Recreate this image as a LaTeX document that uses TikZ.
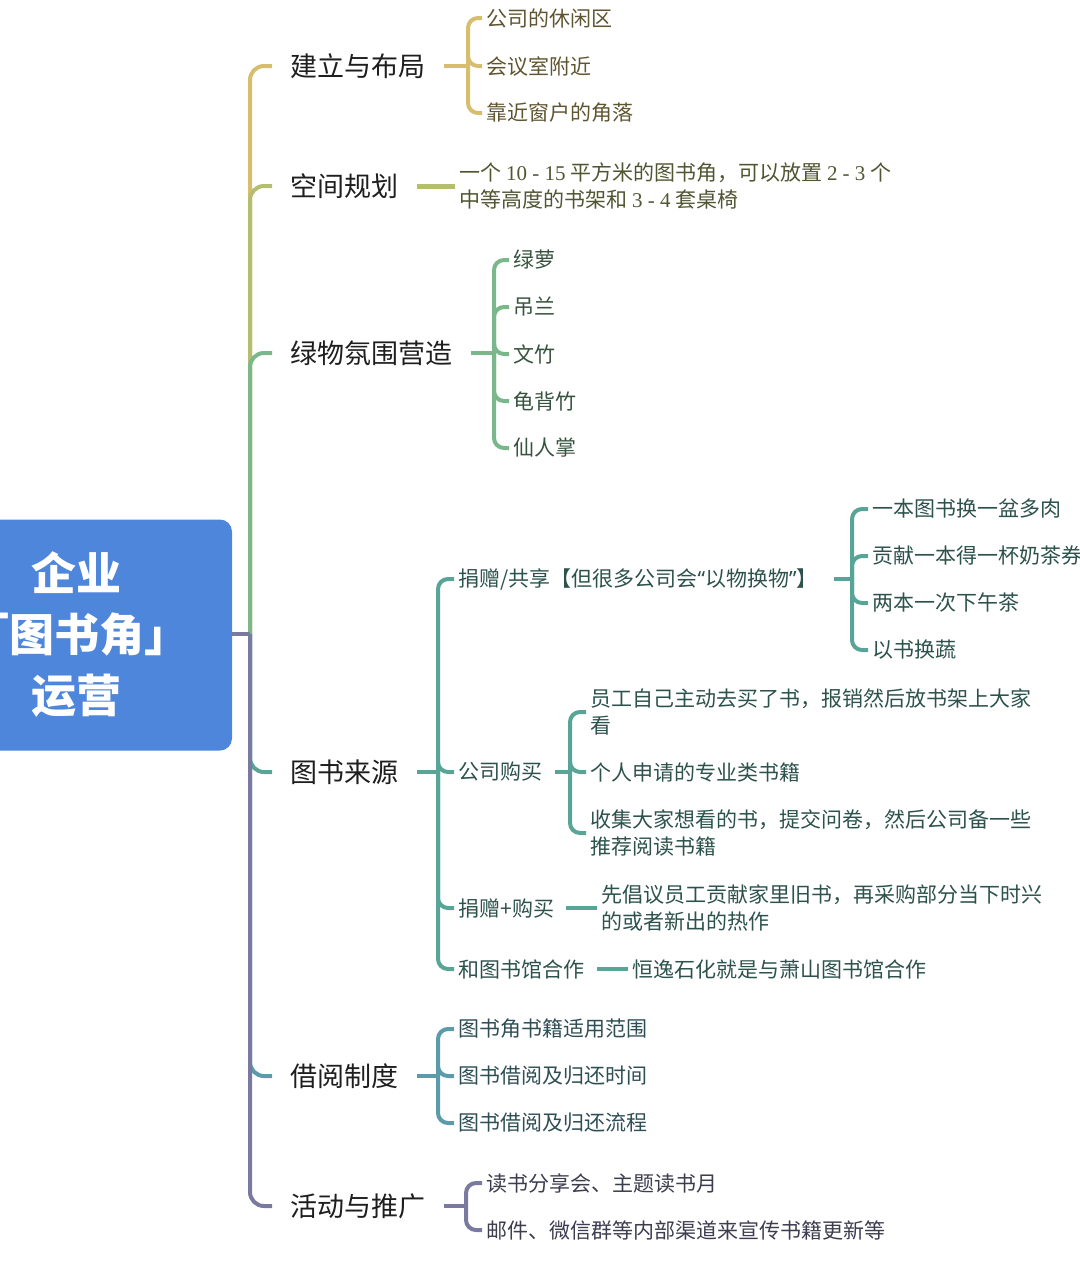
\documentclass[tikz,border=0pt]{standalone}
\usepackage{fontspec}
\setmainfont{Noto Sans CJK SC}
\newfontfamily\numfont{Liberation Serif}
\newfontfamily\quotefont{Noto Sans}
\usetikzlibrary{positioning}

\definecolor{rootc}{HTML}{4E86DB}
\definecolor{layoutc}{HTML}{D6BE6E}
\definecolor{spacec}{HTML}{B5BE6E}
\definecolor{plantc}{HTML}{7AB88C}
\definecolor{sourcec}{HTML}{58A496}
\definecolor{borrowc}{HTML}{5C9CAA}
\definecolor{eventc}{HTML}{7A7AA0}
\definecolor{topictext}{HTML}{1E1E1E}

\begin{document}
\begin{tikzpicture}[
  x=0.5pt, y=-0.5pt,
  rootbox/.style={
    fill=rootc,
    rounded corners=6pt,
    text=white,
    align=center,
    font=\fontsize{22.5}{30.5}\selectfont\bfseries,
    minimum width=155pt,
    minimum height=115.5pt
  },
  topic/.style={
    anchor=west,
    inner sep=1pt,
    text=topictext,
    font=\fontsize{13.5}{16}\selectfont
  },
  leaf/.style={
    anchor=west,
    inner xsep=2pt,
    inner ysep=1pt,
    align=left,
    font=\fontsize{10.5}{13.5}\selectfont
  },
  link/.style={
    line width=2pt,
    rounded corners=5pt
  },
  trunk/.style={
    line width=2pt,
    rounded corners=7pt
  }
]
\useasboundingbox (0,0) rectangle (1080,1265);
\clip (0,0) rectangle (1080,1265);

% root
\node[rootbox] (root) at (77,635) {企业\\「图书角」\\运营};
\coordinate (hub) at (250,634);

% main topics
\node[topic] (layout) at (288,66) {建立与布局};
\node[topic] (space) at (288,186) {空间规划};
\node[topic] (plant) at (288,353) {绿物氛围营造};
\node[topic] (source) at (288,772) {图书来源};
\node[topic] (borrow) at (288,1076) {借阅制度};
\node[topic] (event) at (288,1206) {活动与推广};

\draw[trunk, draw=layoutc] (hub) |- ([xshift=-8pt]layout.west);
\draw[trunk, draw=spacec] (hub) |- ([xshift=-8pt]space.west);
\draw[trunk, draw=plantc] (hub) |- ([xshift=-8pt]plant.west);
\draw[trunk, draw=sourcec] (hub) |- ([xshift=-8pt]source.west);
\draw[trunk, draw=borrowc] (hub) |- ([xshift=-8pt]borrow.west);
\draw[trunk, draw=eventc] (hub) |- ([xshift=-8pt]event.west);
\draw[line width=2pt, draw=eventc] (root.east |- hub) -- (hub);

% layout
\coordinate (layoutj) at (468,66);
\node[leaf, text=layoutc!45!black] (layout1) at (482,18) {公司的休闲区};
\node[leaf, text=layoutc!45!black] (layout2) at (482,66) {会议室附近};
\node[leaf, text=layoutc!45!black] (layout3) at (482,113) {靠近窗户的角落};
\draw[line width=2pt, draw=layoutc] ([xshift=8pt]layout.east) -- (layoutj);
\foreach \n in {layout1,layout2,layout3}
  \draw[link, draw=layoutc] (layoutj) |- (\n.west);

% space
\node[leaf, text=spacec!45!black] (space1) at (455,186)
  {一个 {\numfont 10 - 15} 平方米的图书角，可以放置 {\numfont 2 - 3} 个\\中等高度的书架和 {\numfont 3 - 4} 套桌椅};
\draw[line width=2.5pt, draw=spacec] ([xshift=8pt]space.east) -- (space1.west);

% plants
\coordinate (plantj) at (494,353);
\node[leaf, text=plantc!45!black] (plant1) at (509,260) {绿萝};
\node[leaf, text=plantc!45!black] (plant2) at (509,307) {吊兰};
\node[leaf, text=plantc!45!black] (plant3) at (509,354) {文竹};
\node[leaf, text=plantc!45!black] (plant4) at (509,401) {龟背竹};
\node[leaf, text=plantc!45!black] (plant5) at (509,448) {仙人掌};
\draw[line width=2pt, draw=plantc] ([xshift=8pt]plant.east) -- (plantj);
\foreach \n in {plant1,plant2,plant3,plant4,plant5}
  \draw[link, draw=plantc] (plantj) |- (\n.west);

% sources
\coordinate (sourcej) at (438,772);
\node[leaf, text=sourcec!50!black] (share) at (454,579) {捐赠/共享【但很多公司会{\quotefont“}以物换物{\quotefont”}】};
\node[leaf, text=sourcec!50!black] (buy) at (454,772) {公司购买};
\node[leaf, text=sourcec!50!black] (mixed) at (454,908) {捐赠+购买};
\node[leaf, text=sourcec!50!black] (library) at (454,969) {和图书馆合作};
\draw[line width=2pt, draw=sourcec] ([xshift=8pt]source.east) -- (sourcej);
\foreach \n in {share,buy,mixed,library}
  \draw[link, draw=sourcec] (sourcej) |- (\n.west);

\coordinate (sharej) at (852,579);
\node[leaf, text=sourcec!50!black] (share1) at (868,509) {一本图书换一盆多肉};
\node[leaf, text=sourcec!50!black] (share2) at (868,556) {贡献一本得一杯奶茶券};
\node[leaf, text=sourcec!50!black] (share3) at (868,603) {两本一次下午茶};
\node[leaf, text=sourcec!50!black] (share4) at (868,650) {以书换蔬};
\draw[line width=2pt, draw=sourcec] ([xshift=6pt]share.east) -- (sharej);
\foreach \n in {share1,share2,share3,share4}
  \draw[link, draw=sourcec] (sharej) |- (\n.west);

\coordinate (buyj) at (570,772);
\node[leaf, text=sourcec!50!black] (buy1) at (586,712) {员工自己主动去买了书，报销然后放书架上大家\\看};
\node[leaf, text=sourcec!50!black] (buy2) at (586,772) {个人申请的专业类书籍};
\node[leaf, text=sourcec!50!black] (buy3) at (586,833) {收集大家想看的书，提交问卷，然后公司备一些\\推荐阅读书籍};
\draw[line width=2pt, draw=sourcec] ([xshift=4pt]buy.east) -- (buyj);
\foreach \n in {buy1,buy2,buy3}
  \draw[link, draw=sourcec] (buyj) |- (\n.west);

\node[leaf, text=sourcec!50!black] (mixed1) at (597,908) {先倡议员工贡献家里旧书，再采购部分当下时兴\\的或者新出的热作};
\draw[line width=2pt, draw=sourcec] ([xshift=4pt]mixed.east) -- (mixed1.west);

\node[leaf, text=sourcec!50!black] (library1) at (628,969) {恒逸石化就是与萧山图书馆合作};
\draw[line width=2pt, draw=sourcec] ([xshift=4pt]library.east) -- (library1.west);

% borrowing
\coordinate (borrowj) at (438,1076);
\node[leaf, text=borrowc!50!black] (borrow1) at (454,1029) {图书角书籍适用范围};
\node[leaf, text=borrowc!50!black] (borrow2) at (454,1076) {图书借阅及归还时间};
\node[leaf, text=borrowc!50!black] (borrow3) at (454,1123) {图书借阅及归还流程};
\draw[line width=2pt, draw=borrowc] ([xshift=8pt]borrow.east) -- (borrowj);
\foreach \n in {borrow1,borrow2,borrow3}
  \draw[link, draw=borrowc] (borrowj) |- (\n.west);

% events
\coordinate (eventj) at (466,1206);
\node[leaf, text=eventc!50!black] (event1) at (482,1183) {读书分享会、主题读书月};
\node[leaf, text=eventc!50!black] (event2) at (482,1230) {邮件、微信群等内部渠道来宣传书籍更新等};
\draw[line width=2pt, draw=eventc] ([xshift=8pt]event.east) -- (eventj);
\foreach \n in {event1,event2}
  \draw[link, draw=eventc] (eventj) |- (\n.west);
\end{tikzpicture}
\end{document}
